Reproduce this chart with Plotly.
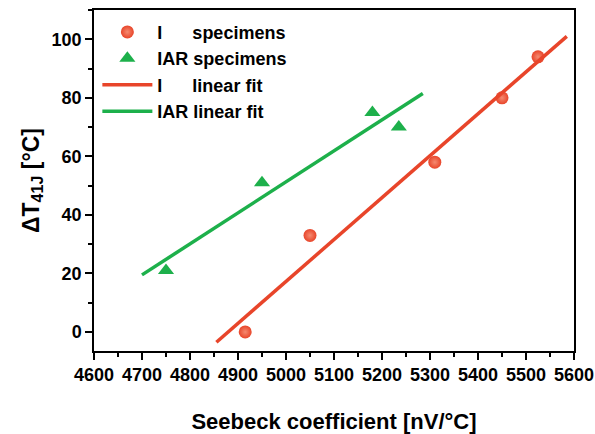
import plotly.graph_objects as go

# Data
i_x = [4915, 5050, 5310, 5450, 5525]
i_y = [0, 33, 58, 80, 94]
iar_x = [4750, 4950, 5180, 5235]
iar_y = [21, 51, 75, 70]
i_fit_x = [4855, 5585]
i_fit_y = [-3.5, 101]
iar_fit_x = [4700, 5285]
iar_fit_y = [19.5, 81.5]

RED = "#E8452A"
GREEN = "#1DB04B"
FONT = "Liberation Sans, Arial, sans-serif"
NB = "\u00a0"

fig = go.Figure()
fig.add_trace(go.Scatter(
    x=i_x, y=i_y, mode="markers", name="I" + NB * 6 + "specimens",
    marker=dict(symbol="circle", size=13, color=RED,
                gradient=dict(type="radial", color="#F58A70"))))
fig.add_trace(go.Scatter(
    x=iar_x, y=iar_y, mode="markers", name="IAR specimens",
    marker=dict(symbol="triangle-up", size=14, color=GREEN)))
fig.add_trace(go.Scatter(
    x=i_fit_x, y=i_fit_y, mode="lines", name="I" + NB * 6 + "linear fit",
    line=dict(color=RED, width=3.5)))
fig.add_trace(go.Scatter(
    x=iar_fit_x, y=iar_fit_y, mode="lines", name="IAR linear fit",
    line=dict(color=GREEN, width=3.5)))

axis_common = dict(
    showline=True, linecolor="black", linewidth=1.5, mirror=True,
    ticks="outside", ticklen=7, tickwidth=1.5, tickcolor="black",
    showgrid=False, zeroline=False, automargin=False,
    ticklabeloverflow="allow",
    tickfont=dict(family=FONT, size=18, color="black", weight="bold"),
)

fig.update_layout(
    width=595, height=434,
    margin=dict(l=94, r=21, t=10, b=83),
    paper_bgcolor="white", plot_bgcolor="white",
    font=dict(family=FONT, color="black"),
    showlegend=True,
    legend=dict(x=0.007, y=0.989, xanchor="left", yanchor="top",
                bgcolor="rgba(0,0,0,0)", itemwidth=50,
                font=dict(family=FONT, size=18, color="black", weight="bold"),
                tracegroupgap=0),
    xaxis=dict(range=[4600, 5600], dtick=100, tick0=4600,
               minor=dict(ticks="outside", ticklen=4, dtick=50, tickcolor="black", tickwidth=1.5),
               title=dict(text="Seebeck coefficient [nV/°C]", standoff=29,
                          font=dict(family=FONT, size=22, color="black", weight="bold")),
               **axis_common),
    yaxis=dict(range=[-6.5, 110], dtick=20, tick0=0,
               minor=dict(ticks="outside", ticklen=4, dtick=10, tickcolor="black", tickwidth=1.5),
               title=dict(text="ΔT<sub>41J</sub> [°C]", standoff=6,
                          font=dict(family=FONT, size=23, color="black", weight="bold")),
               **axis_common),
)

fig.write_html("out.html", config={"displayModeBar": False},
               post_script="document.body.style.margin='0';")
